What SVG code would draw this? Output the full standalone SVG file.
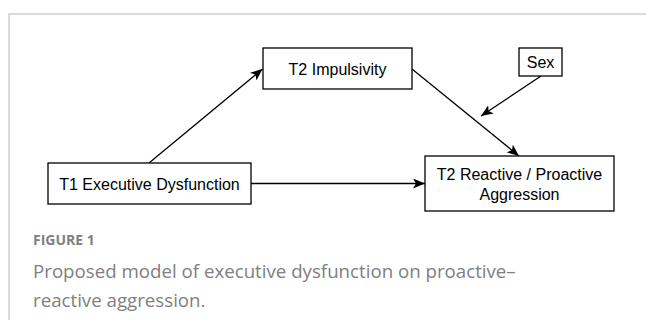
<svg xmlns="http://www.w3.org/2000/svg" width="646" height="320" viewBox="0 0 646 320">
<style>
.box{fill:#fff;stroke:#000;stroke-width:1.3}
.lbl{font-family:"Liberation Sans",Arial,sans-serif;font-size:16px;fill:#000;text-anchor:middle}
.conn{stroke:#000;stroke-width:1.3;fill:none;marker-end:url(#arr)}
.frame{stroke:#cfcfcf;stroke-width:1.5;fill:none}
.fig{font-family:"Open Sans","Liberation Sans",sans-serif;font-size:14px;font-weight:bold;fill:#808080}
.cap{font-family:"Open Sans","Liberation Sans",sans-serif;font-size:18.7px;fill:#808080}
</style>
<defs>
<marker id="arr" viewBox="0 0 12 10" refX="12" refY="5" markerWidth="12" markerHeight="10" markerUnits="userSpaceOnUse" orient="auto">
<path d="M0,0 L12,5 L0,10 L3,5 Z" fill="#000"/>
</marker>
</defs>
<path class="frame" d="M9,320 V14 H646"/>
<g id="connectors">
<line class="conn" x1="149" y1="163" x2="262.5" y2="69"/>
<line class="conn" x1="412" y1="69" x2="519" y2="156"/>
<line class="conn" x1="541" y1="76" x2="481" y2="116"/>
<line class="conn" x1="251" y1="183.5" x2="425" y2="183.5"/>
</g>
<g id="t1">
<rect class="box" x="48" y="163" width="203" height="41"/>
<text class="lbl" x="149.5" y="189.5">T1 Executive Dysfunction</text>
</g>
<g id="impulsivity">
<rect class="box" x="263" y="48" width="149" height="41"/>
<text class="lbl" x="337.5" y="74.5">T2 Impulsivity</text>
</g>
<g id="sex">
<rect class="box" x="519" y="48" width="43" height="28"/>
<text class="lbl" x="540.5" y="68">Sex</text>
</g>
<g id="aggression">
<rect class="box" x="425" y="156" width="189" height="55"/>
<text class="lbl" x="519.5" y="179.5">T2 Reactive / Proactive</text>
<text class="lbl" x="519.5" y="199.5">Aggression</text>
</g>
<text class="fig" x="33" y="245">FIGURE 1</text>
<text class="cap" x="33" y="278">Proposed model of executive dysfunction on proactive–</text>
<text class="cap" x="33" y="307">reactive aggression.</text>
</svg>
